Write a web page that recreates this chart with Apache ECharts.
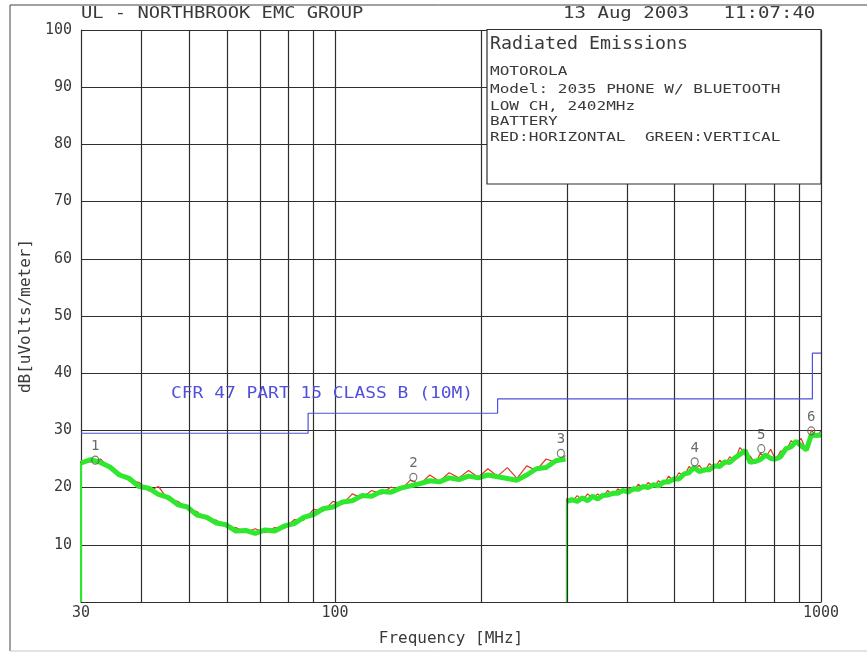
<!DOCTYPE html>
<html>
<head>
<meta charset="utf-8">
<title>Radiated Emissions</title>
<script src="https://cdn.jsdelivr.net/npm/echarts@6/dist/echarts.min.js"></script>
<style>
  html, body { margin: 0; padding: 0; background: #fff; }
  #chart { width: 867px; height: 654px; }
</style>
</head>
<body>
<div id="chart"></div>
<script>
// biconical range, 30 - 300 MHz (first point drops to the floor)
const freqLow = [30, 30, 31.4, 32.9, 34.4, 36, 37.7, 39.5, 41.4, 43.3, 45.3, 47.5, 49.7, 52, 54.5, 57, 59.7,
  62.5, 65.5, 68.5, 71.8, 75.1, 78.7, 82.4, 86.2, 90.3, 94.5, 99, 103.6, 108.5, 113.6, 118.9, 124.5,
  130.3, 136.5, 142.9, 149.6, 156.6, 164, 171.7, 179.8, 188.2, 197.1, 206.3, 216, 226.2, 236.8, 248,
  259.6, 271.8, 284.6, 298]
const vertLow = [0, 24.3, 24.9, 24.4, 23.6, 22.2, 21.6, 20.2, 19.9, 18.8, 18.3, 17.0, 16.6, 15.2, 14.8, 13.8, 13.5,
  12.4, 12.5, 12.0, 12.6, 12.4, 13.3, 13.7, 14.8, 15.3, 16.3, 16.6, 17.5, 17.7, 18.6, 18.5, 19.3,
  19.2, 19.9, 20.3, 20.7, 21.2, 21.0, 21.7, 21.4, 22.0, 21.7, 22.2, 21.9, 21.6, 21.3, 22.2,
  23.3, 23.5, 24.7, 25.0]
const horzLow = [0, 24.6, 24.5, 25.0, 23.3, 22.6, 21.2, 20.9, 19.4, 20.2, 17.9, 17.6, 16.2, 15.8, 14.4, 14.3, 13.1,
  13.0, 12.2, 12.8, 12.1, 13.0, 12.9, 14.4, 14.3, 16.2, 15.9, 17.6, 17.1, 18.9, 18.2, 19.5, 18.9,
  20.1, 19.6, 21.3, 20.6, 22.2, 21.1, 22.6, 21.7, 23.0, 21.8, 23.3, 22.0, 23.5, 21.6, 23.8,
  23.0, 25.0, 24.4, 25.6]

// log-periodic range, 300 - 1000 MHz
const freqHigh = [300, 300, 307, 315, 323, 331, 339, 347, 355, 364, 373, 382, 391, 401, 411, 421, 431,
  441, 452, 463, 475, 486, 498, 510, 523, 535, 548, 562, 575, 589, 604, 619, 634, 649, 665, 681,
  698, 715, 733, 750, 769, 788, 807, 826, 847, 867, 889, 910, 933, 955, 978, 1000]
const vertHigh = [0, 17.6, 17.9, 17.6, 18.2, 17.7, 18.5, 18.0, 18.6, 18.7, 19.0, 19.0, 19.5, 19.2, 19.8, 19.7, 20.2,
  20.0, 20.5, 20.3, 21.0, 21.0, 21.5, 21.5, 22.4, 22.6, 23.5, 22.8, 23.1, 23.1, 23.8, 23.7, 24.5, 24.4, 25.2, 25.8,
  26.5, 24.4, 24.6, 24.9, 25.7, 25.1, 25.0, 25.4, 26.8, 27.1, 28.1, 27.3, 26.6, 29.2, 29.1, 29.2]
const horzHigh = [0, 18.1, 17.5, 18.6, 17.8, 18.9, 18.1, 18.9, 18.2, 19.5, 18.6, 19.8, 19.1, 20.0, 19.4, 20.6, 19.8,
  20.9, 20.1, 21.2, 20.6, 22.0, 21.1, 22.6, 22.0, 23.7, 23.0, 23.9, 22.7, 24.2, 23.4, 24.8, 24.0, 25.4, 24.8, 27.0,
  26.1, 25.5, 24.2, 26.0, 25.3, 26.7, 24.8, 26.4, 26.3, 28.2, 27.7, 28.6, 26.4, 30.1, 28.9, 29.9]

const limitFreq = [30, 88, 88, 216, 216, 960, 960, 1000]
const limitLevel = [29.5, 29.5, 33, 33, 35.5, 35.5, 43.5, 43.5]

const markerFreq = [32.1, 144.9, 291.5, 549.6, 753.6, 955]
const markerLevel = [24.8, 21.8, 26.0, 24.5, 26.8, 29.9]
const markerNames = ['1', '2', '3', '4', '5', '6']

const gridFreq = [40, 50, 60, 70, 80, 90, 100, 200, 300, 400, 500, 600, 700, 800, 900, 1000]

const infoLines = ['MOTOROLA', 'Model: 2035 PHONE W/ BLUETOOTH', 'LOW CH, 2402MHz', 'BATTERY',
  'RED:HORIZONTAL  GREEN:VERTICAL']

const MONO = "'DejaVu Sans Mono', monospace"
const INK = '#3a3a3a'
const GRID = '#2e2e2e'
const RED = '#dd3a22'
const GREEN = '#2ee82e'
const BLUE = '#5050dc'

const pairs = (xs, ys) => xs.map((x, i) => [x, ys[i]])

function label(text, x, y, size, sx, color) {
  return {
    type: 'text',
    x: x,
    y: y,
    scaleX: sx,
    z: 101,
    silent: true,
    style: {
      text: text,
      font: size + 'px ' + MONO,
      fill: color || INK,
      textAlign: 'left',
      textVerticalAlign: 'middle'
    }
  }
}

// trace series: the sweep start drop is a thin line, the rest a thick band
function trace(name, xs, ys, color, width, z) {
  return [
    { name: name, type: 'line', data: pairs(xs.slice(0, 2), ys.slice(0, 2)), z: z, symbol: 'none', lineStyle: { color: color, width: 2 } },
    { name: name, type: 'line', data: pairs(xs.slice(1), ys.slice(1)), z: z, symbol: 'none', lineStyle: { color: color, width: width } }
  ]
}

const chart = echarts.init(document.getElementById('chart'))

const graphics = [
  { type: 'line', z: 100, shape: { x1: 10, y1: 5, x2: 867, y2: 5 }, style: { stroke: '#444', lineWidth: 1 } },
  { type: 'line', z: 100, shape: { x1: 10, y1: 5, x2: 10, y2: 651 }, style: { stroke: '#444', lineWidth: 1 } },
  { type: 'line', z: 100, shape: { x1: 10, y1: 651, x2: 867, y2: 651 }, style: { stroke: '#c8c8c8', lineWidth: 1 } },
  {
    type: 'rect', z: 100, silent: true,
    shape: { x: 487, y: 29.5, width: 334, height: 154.5 },
    style: { fill: '#fff', stroke: GRID, lineWidth: 1.2 }
  },
  label('UL - NORTHBROOK EMC GROUP', 81, 14, 15, 1.25),
  label('13 Aug 2003   11:07:40', 563, 14, 15, 1.27),
  label('Radiated Emissions', 490, 45, 17, 1.075),
  label('CFR 47 PART 15 CLASS B (10M)', 171, 394, 16, 1.12, BLUE)
]
const lineY = [72, 89.5, 106.5, 122, 138]
infoLines.forEach((t, i) => graphics.push(label(t, 490, lineY[i], 12, 1.34)))

chart.setOption({
  animation: false,
  backgroundColor: '#fff',
  grid: { left: 81, top: 30, width: 740, height: 572, containLabel: false },
  xAxis: {
    type: 'log',
    logBase: 10,
    min: 30,
    max: 1000,
    name: 'Frequency [MHz]',
    nameLocation: 'middle',
    nameGap: 29,
    nameTextStyle: { fontFamily: MONO, fontSize: 16, color: INK },
    axisLine: { show: true, lineStyle: { color: GRID, width: 1.2 } },
    axisTick: { show: false },
    splitLine: { show: false },
    axisLabel: {
      fontFamily: MONO, fontSize: 15, color: INK, margin: 4,
      formatter: (v) => String(Math.round(v))
    }
  },
  yAxis: {
    type: 'value',
    min: 0,
    max: 100,
    interval: 10,
    name: 'dB[uVolts/meter]',
    nameLocation: 'middle',
    nameGap: 39,
    nameTextStyle: { fontFamily: MONO, fontSize: 16, color: INK },
    axisLine: { show: true, lineStyle: { color: GRID, width: 1.2 } },
    axisTick: { show: false },
    splitLine: { show: true, lineStyle: { color: GRID, width: 1.2 } },
    axisLabel: {
      fontFamily: MONO, fontSize: 15, color: INK, margin: 9,
      formatter: (v) => (v === 0 ? '' : String(v))
    }
  },
  series: [
    {
      name: 'grid', type: 'line', data: [], z: 1, silent: true,
      markLine: {
        silent: true,
        symbol: ['none', 'none'],
        label: { show: false },
        lineStyle: { color: GRID, width: 1.2, type: 'solid' },
        data: gridFreq.map((f) => ({ xAxis: f }))
      }
    },
    ...trace('Horizontal', freqLow, horzLow, RED, 1.2, 3),
    ...trace('Horizontal', freqHigh, horzHigh, RED, 1.2, 3),
    ...trace('Vertical', freqLow, vertLow, GREEN, 5, 4),
    ...trace('Vertical', freqHigh, vertHigh, GREEN, 5, 4),
    { name: 'Limit', type: 'line', data: pairs(limitFreq, limitLevel), z: 5, symbol: 'none', lineStyle: { color: BLUE, width: 1.2 } },
    {
      name: 'Markers',
      type: 'scatter',
      z: 6,
      symbol: 'circle',
      symbolSize: [7, 8],
      itemStyle: { color: 'rgba(255,255,255,0)', borderColor: '#555', borderWidth: 1.2 },
      label: {
        show: true, position: 'top', distance: 2,
        formatter: (p) => p.name,
        fontFamily: MONO, fontSize: 14, color: '#444'
      },
      data: markerFreq.map((f, i) => ({ name: markerNames[i], value: [f, markerLevel[i]] }))
    }
  ],
  graphic: graphics
})
</script>
</body>
</html>
